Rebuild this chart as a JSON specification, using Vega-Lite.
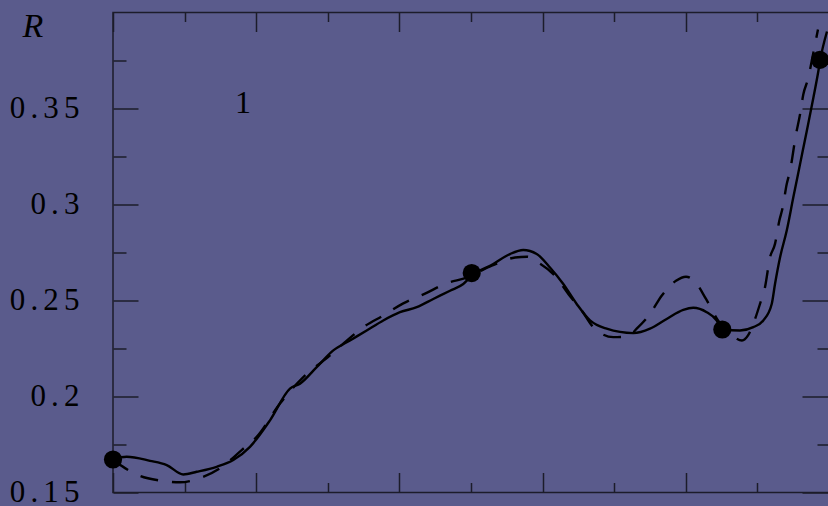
{
  "$schema": "https://vega.github.io/schema/vega-lite/v6.json",
  "autosize": "none",
  "padding": {"left": 113, "top": 12.5, "right": 0, "bottom": 13.5},
  "width": 716,
  "height": 480,
  "background": "#5a5b8c",
  "config": {
    "view": {"stroke": "#1c1c2a", "strokeWidth": 1.5},
    "axis": {
      "domain": false,
      "grid": false,
      "tickColor": "#1c1c2a",
      "tickWidth": 1.5,
      "labelFont": "Liberation Serif",
      "labelFontSize": 31,
      "labelColor": "#000000",
      "title": null
    }
  },
  "datasets": {
    "solid": [
      {"t": 0.000, "R": 0.1674}, {"t": 0.191, "R": 0.1686}, {"t": 0.517, "R": 0.1665},
      {"t": 0.750, "R": 0.1643}, {"t": 0.982, "R": 0.1594}, {"t": 1.169, "R": 0.1608},
      {"t": 1.448, "R": 0.1634}, {"t": 1.680, "R": 0.1669}, {"t": 1.913, "R": 0.1738},
      {"t": 2.193, "R": 0.1876}, {"t": 2.472, "R": 0.2041}, {"t": 2.612, "R": 0.2067},
      {"t": 2.845, "R": 0.2153}, {"t": 3.077, "R": 0.2240}, {"t": 3.310, "R": 0.2292},
      {"t": 3.543, "R": 0.2344}, {"t": 3.775, "R": 0.2396}, {"t": 4.008, "R": 0.2439},
      {"t": 4.242, "R": 0.2465}, {"t": 4.473, "R": 0.2508}, {"t": 4.707, "R": 0.2551},
      {"t": 4.892, "R": 0.2586}, {"t": 5.010, "R": 0.2629}, {"t": 5.311, "R": 0.2690},
      {"t": 5.545, "R": 0.2742}, {"t": 5.730, "R": 0.2763}, {"t": 5.918, "R": 0.2742},
      {"t": 6.103, "R": 0.2672}, {"t": 6.289, "R": 0.2586}, {"t": 6.476, "R": 0.2482},
      {"t": 6.662, "R": 0.2396}, {"t": 6.895, "R": 0.2353}, {"t": 7.267, "R": 0.2330},
      {"t": 7.500, "R": 0.2353}, {"t": 7.733, "R": 0.2404}, {"t": 7.965, "R": 0.2451},
      {"t": 8.105, "R": 0.2462}, {"t": 8.292, "R": 0.2439}, {"t": 8.432, "R": 0.2396},
      {"t": 8.506, "R": 0.2349}, {"t": 8.757, "R": 0.2344}, {"t": 8.943, "R": 0.2361},
      {"t": 9.082, "R": 0.2396}, {"t": 9.200, "R": 0.2482}, {"t": 9.246, "R": 0.2586},
      {"t": 9.316, "R": 0.2724}, {"t": 9.409, "R": 0.2863}, {"t": 9.501, "R": 0.3036},
      {"t": 9.595, "R": 0.3209}, {"t": 9.689, "R": 0.3382}, {"t": 9.781, "R": 0.3555},
      {"t": 9.851, "R": 0.3694}, {"t": 9.874, "R": 0.3746}, {"t": 9.972, "R": 0.3901}
    ],
    "dashed": [
      {"t": 0.000, "R": 0.1669}, {"t": 0.168, "R": 0.1627}, {"t": 0.377, "R": 0.1586},
      {"t": 0.656, "R": 0.1562}, {"t": 0.936, "R": 0.1553}, {"t": 1.215, "R": 0.1575},
      {"t": 1.494, "R": 0.1626}, {"t": 1.797, "R": 0.1721}, {"t": 2.007, "R": 0.1790},
      {"t": 2.332, "R": 0.1963}, {"t": 2.658, "R": 0.2101}, {"t": 3.031, "R": 0.2214},
      {"t": 3.240, "R": 0.2283}, {"t": 3.496, "R": 0.2361}, {"t": 3.775, "R": 0.2422},
      {"t": 4.054, "R": 0.2485}, {"t": 4.358, "R": 0.2536}, {"t": 4.661, "R": 0.2590},
      {"t": 4.940, "R": 0.2619}, {"t": 5.289, "R": 0.2681}, {"t": 5.615, "R": 0.2724},
      {"t": 5.782, "R": 0.2728}, {"t": 5.940, "R": 0.2698}, {"t": 6.173, "R": 0.2629},
      {"t": 6.359, "R": 0.2534}, {"t": 6.546, "R": 0.2448}, {"t": 6.708, "R": 0.2361},
      {"t": 6.987, "R": 0.2309}, {"t": 7.193, "R": 0.2313}, {"t": 7.314, "R": 0.2353},
      {"t": 7.500, "R": 0.2430}, {"t": 7.663, "R": 0.2525}, {"t": 7.863, "R": 0.2603},
      {"t": 8.003, "R": 0.2624}, {"t": 8.128, "R": 0.2598}, {"t": 8.282, "R": 0.2508},
      {"t": 8.450, "R": 0.2396}, {"t": 8.645, "R": 0.2318}, {"t": 8.785, "R": 0.2292},
      {"t": 8.869, "R": 0.2318}, {"t": 8.943, "R": 0.2379}, {"t": 9.036, "R": 0.2482},
      {"t": 9.106, "R": 0.2569}, {"t": 9.176, "R": 0.2724}, {"t": 9.246, "R": 0.2795},
      {"t": 9.306, "R": 0.2915}, {"t": 9.353, "R": 0.2984}, {"t": 9.409, "R": 0.3105},
      {"t": 9.455, "R": 0.3174}, {"t": 9.539, "R": 0.3365}, {"t": 9.595, "R": 0.3469},
      {"t": 9.641, "R": 0.3573}, {"t": 9.711, "R": 0.3659}, {"t": 9.758, "R": 0.3746},
      {"t": 9.846, "R": 0.3912}
    ],
    "nodes": [
      {"t": 0.000, "R": 0.1672}, {"t": 5.010, "R": 0.2643},
      {"t": 8.510, "R": 0.2349}, {"t": 9.874, "R": 0.3753}
    ],
    "curveLabel": [{"t": 1.816, "R": 0.3528, "label": "1"}]
  },
  "resolve": {"axis": {"x": "independent", "y": "independent"}},
  "layer": [
    {
      "data": {"name": "solid"},
      "mark": {"type": "line", "color": "#000000", "strokeWidth": 2.4, "interpolate": "monotone", "clip": true},
      "encoding": {
        "x": {
          "field": "t", "type": "quantitative",
          "scale": {"domain": [0, 10], "nice": false, "zero": false},
          "axis": {"orient": "bottom", "values": [0, 2, 4, 6, 8, 10], "tickSize": -20, "labels": false}
        },
        "y": {
          "field": "R", "type": "quantitative",
          "scale": {"domain": [0.15, 0.4], "nice": false, "zero": false},
          "axis": {
            "orient": "left",
            "values": [0.15, 0.2, 0.25, 0.3, 0.35],
            "tickSize": -25,
            "labelPadding": 59,
            "format": ".2~f",
            "labelExpr": "replace(datum.label, regexp('(.)(?=.)', 'g'), '$1\u2006')",
            "title": "R",
            "titleAngle": 0,
            "titleX": -80.5,
            "titleY": 13.5,
            "titleAlign": "center",
            "titleBaseline": "middle",
            "titleFont": "Liberation Serif",
            "titleFontSize": 34,
            "titleFontStyle": "italic",
            "titleFontWeight": "normal",
            "titleColor": "#000000"
          }
        }
      }
    },
    {
      "data": {"name": "dashed"},
      "mark": {"type": "line", "color": "#000000", "strokeWidth": 2.4, "strokeDash": [18, 14], "interpolate": "monotone", "clip": true},
      "encoding": {
        "x": {
          "field": "t", "type": "quantitative",
          "axis": {"orient": "bottom", "values": [1, 3, 5, 7, 9], "tickSize": -10, "labels": false}
        },
        "y": {
          "field": "R", "type": "quantitative",
          "axis": {"orient": "left", "values": [0.175, 0.225, 0.275, 0.325, 0.375], "tickSize": -13, "labels": false}
        }
      }
    },
    {
      "data": {"name": "nodes"},
      "mark": {"type": "point", "shape": "circle", "filled": true, "color": "#000000", "opacity": 1, "size": 330},
      "encoding": {
        "x": {
          "field": "t", "type": "quantitative",
          "axis": {"orient": "top", "values": [0, 2, 4, 6, 8, 10], "tickSize": -19, "labels": false}
        },
        "y": {
          "field": "R", "type": "quantitative",
          "axis": {"orient": "right", "values": [0.15, 0.2, 0.25, 0.3, 0.35], "tickSize": -27, "labels": false}
        }
      }
    },
    {
      "data": {"name": "curveLabel"},
      "mark": {"type": "text", "font": "Liberation Serif", "fontSize": 32, "color": "#000000", "align": "center", "baseline": "middle"},
      "encoding": {
        "x": {
          "field": "t", "type": "quantitative",
          "axis": {"orient": "top", "values": [1, 3, 5, 7, 9], "tickSize": -9, "labels": false}
        },
        "y": {
          "field": "R", "type": "quantitative",
          "axis": {"orient": "right", "values": [0.175, 0.225, 0.275, 0.325, 0.375], "tickSize": -12, "labels": false}
        },
        "text": {"field": "label"}
      }
    }
  ]
}
